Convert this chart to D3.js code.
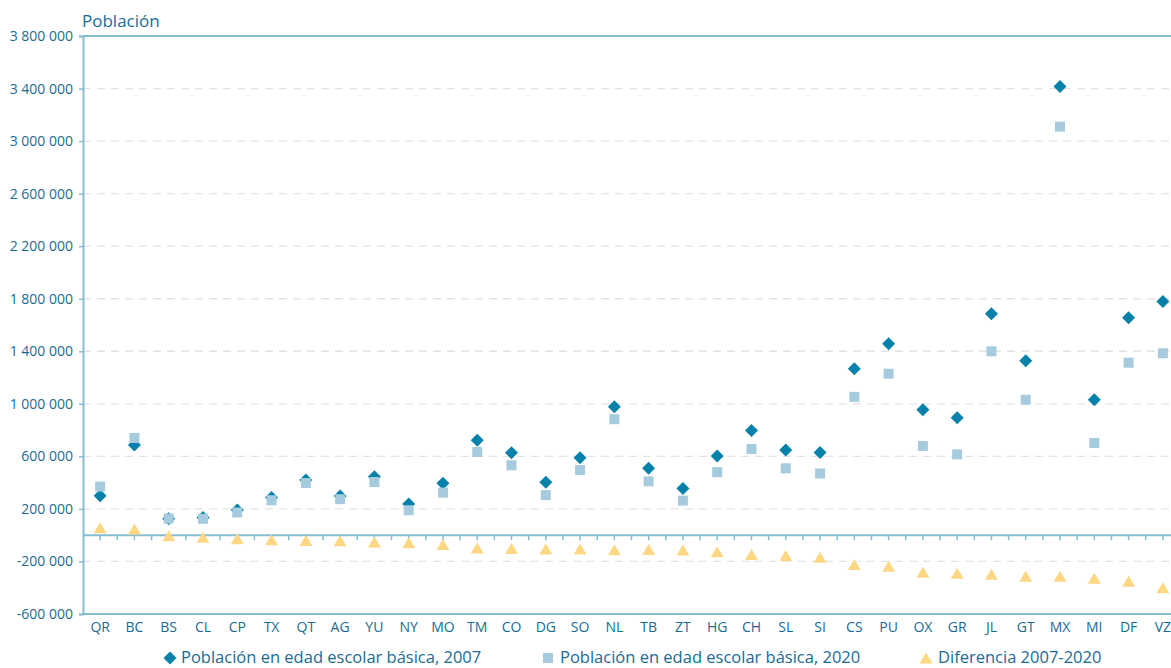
<!DOCTYPE html>
<html>
<head>
<meta charset="utf-8">
<script src="https://cdn.jsdelivr.net/npm/d3@7/dist/d3.min.js"></script>
<style>
  html, body { margin: 0; padding: 0; background: #ffffff; }
  svg { display: block; }
  text { font-family: "Open Sans", "Noto Sans", sans-serif; fill: #1a6b94; }
</style>
</head>
<body>
<svg id="chart" width="1171" height="668"></svg>
<script>
// ---- Data ----
const categories = ["QR","BC","BS","CL","CP","TX","QT","AG","YU","NY","MO","TM","CO","DG","SO","NL","TB","ZT","HG","CH","SL","SI","CS","PU","OX","GR","JL","GT","MX","MI","DF","VZ"];
const pop2007 = [301000, 687000, 126000, 134000, 192000, 286000, 421000, 299000, 444000, 238000, 396000, 722000, 628000, 402000, 590000, 977000, 509000, 356000, 602000, 796000, 648000, 630000, 1267000, 1458000, 954000, 893000, 1685000, 1328000, 3415000, 1031000, 1656000, 1778000];
const pop2020 = [370000, 740000, 126000, 125000, 173000, 266000, 397000, 274000, 405000, 190000, 324000, 633000, 532000, 305000, 496000, 883000, 410000, 263000, 480000, 656000, 509000, 470000, 1053000, 1229000, 679000, 615000, 1400000, 1031000, 3110000, 702000, 1313000, 1385000];
const diff = [56000, 47000, -5000, -15000, -28000, -34000, -40000, -42000, -51000, -57000, -71000, -98000, -101000, -105000, -105000, -110000, -109000, -113000, -126000, -148000, -154000, -168000, -224000, -237000, -282000, -290000, -298000, -313000, -313000, -328000, -351000, -400000];
const yTicks = [-600000, -200000, 200000, 600000, 1000000, 1400000, 1800000, 2200000, 2600000, 3000000, 3400000, 3800000];
const yTitle = "Población";
const legendLabels = ["Población en edad escolar básica, 2007", "Población en edad escolar básica, 2020", "Diferencia 2007-2020"];

// ---- Setup ----
const svg = d3.select("#chart");
const axisColor = "#86bdd3";
const c2007 = "#0581aa";
const c2020 = "#a6cbde";
const cDiff = "#fdd784";

const x = d3.scaleBand().domain(categories).range([83, 1180]).padding(0);
const y = d3.scaleLinear().domain([-600000, 3800000]).range([614, 36]);

const locale = d3.formatLocale({decimal: ",", thousands: " ", grouping: [3], currency: ["", ""], minus: "-"});
const fmt = locale.format(",");

// gridlines
svg.append("g").selectAll("line")
  .data(yTicks.filter(v => v !== -600000 && v !== 3800000))
  .join("line")
  .attr("x1", 83).attr("x2", 1171)
  .attr("y1", d => y(d)).attr("y2", d => y(d))
  .attr("stroke", "#e3e3e3").attr("stroke-width", 1.3)
  .attr("stroke-dasharray", "8,6");

// y axis
const yAxis = svg.append("g").attr("transform", "translate(83,0)")
  .call(d3.axisLeft(y).tickValues(yTicks).tickFormat(fmt).tickSize(4).tickPadding(6));
yAxis.select(".domain").attr("stroke", axisColor).attr("stroke-width", 2);
yAxis.selectAll(".tick line").attr("stroke", axisColor).attr("stroke-width", 1.5);
yAxis.selectAll(".tick text").style("font-size", "14px").attr("fill", "#1a6b94");

// top and bottom frame lines
svg.append("line").attr("x1", 83).attr("x2", 1171).attr("y1", y(3800000)).attr("y2", y(3800000))
  .attr("stroke", axisColor).attr("stroke-width", 2);
svg.append("line").attr("x1", 83).attr("x2", 1171).attr("y1", y(-600000)).attr("y2", y(-600000))
  .attr("stroke", axisColor).attr("stroke-width", 2);

// zero axis with ticks at centres and boundaries
const y0 = y(0);
svg.append("line").attr("x1", 83).attr("x2", 1171).attr("y1", y0).attr("y2", y0)
  .attr("stroke", axisColor).attr("stroke-width", 2);
const tickXs = [];
categories.forEach(c => { tickXs.push(x(c)); tickXs.push(x(c) + x.bandwidth() / 2); });
svg.append("g").selectAll("line").data(tickXs.filter(v => v > 84)).join("line")
  .attr("x1", d => d).attr("x2", d => d)
  .attr("y1", y0).attr("y2", y0 + 5)
  .attr("stroke", axisColor).attr("stroke-width", 1.5);

// x labels
svg.append("g").selectAll("text").data(categories).join("text")
  .attr("x", d => x(d) + x.bandwidth() / 2)
  .attr("y", 632)
  .attr("text-anchor", "middle")
  .style("font-size", "14px")
  .text(d => d);

// y title
svg.append("text").attr("x", 82).attr("y", 27).style("font-size", "17px").text(yTitle);

// markers
const cx = d => x(d) + x.bandwidth() / 2;
const diamond = "M0,-6.5L6.5,0L0,6.5L-6.5,0Z";
const square = "M-5,-5L5,-5L5,5L-5,5Z";
const triangle = "M0,-5.5L6.5,5.5L-6.5,5.5Z";

svg.append("g").selectAll("path").data(categories).join("path")
  .attr("d", diamond).attr("fill", c2007)
  .attr("transform", (d, i) => `translate(${cx(d)},${y(pop2007[i])})`);
svg.append("g").selectAll("path").data(categories).join("path")
  .attr("d", square).attr("fill", c2020)
  .attr("transform", (d, i) => `translate(${cx(d)},${y(pop2020[i])})`);
svg.append("g").selectAll("path").data(categories).join("path")
  .attr("d", triangle).attr("fill", cDiff)
  .attr("transform", (d, i) => `translate(${cx(d)},${y(diff[i])})`);

// legend
const legend = [
  {shape: diamond, color: c2007, mx: 170, tx: 181, label: legendLabels[0]},
  {shape: square, color: c2020, mx: 548, tx: 560, label: legendLabels[1]},
  {shape: triangle, color: cDiff, mx: 926, tx: 938, label: legendLabels[2]}
];
const lg = svg.append("g");
legend.forEach(l => {
  lg.append("path").attr("d", l.shape).attr("fill", l.color).attr("transform", `translate(${l.mx},658)`);
  lg.append("text").attr("x", l.tx).attr("y", 663).style("font-size", "16.5px").text(l.label);
});
</script>
</body>
</html>
